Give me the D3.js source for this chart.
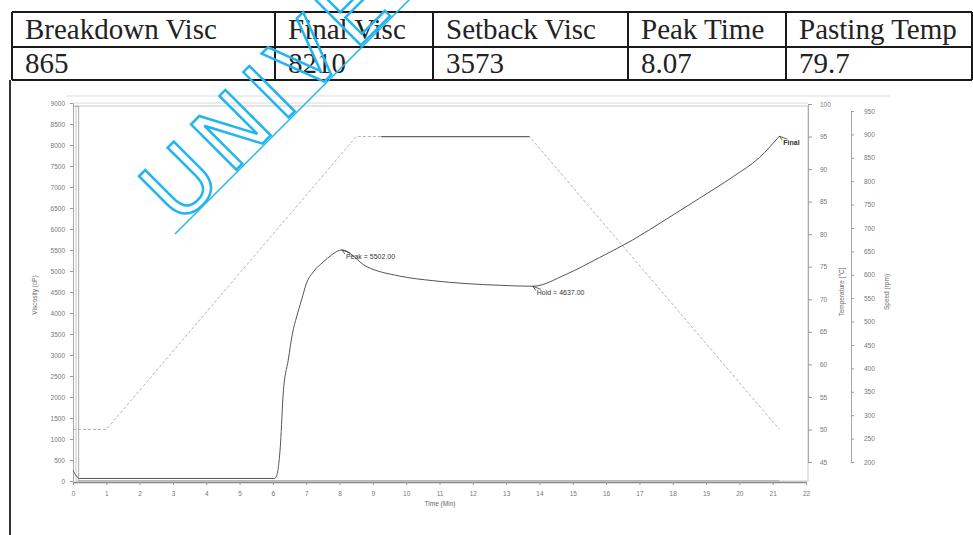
<!DOCTYPE html>
<meta charset="utf-8">
<html>
<head>
<style>
  body { margin: 0; background: #fff; }
  svg { display: block; }
</style>
</head>
<body>
<script src="https://d3js.org/d3.v7.min.js"></script>
<div id="rva_viz"></div>
<script>

// summary table
var tableHeaders = ["Breakdown Visc", "Final Visc", "Setback Visc", "Peak Time", "Pasting Temp"];
var tableValues = ["865", "8210", "3573", "8.07", "79.7"];

// viscosity curve (min, cP)
var viscTime   = [0, 0.2, 6.05, 6.11, 6.23, 6.31, 6.46, 6.59, 6.71, 6.86, 7.01, 7.21, 7.51, 7.76, 8.07, 8.8, 9.8, 10.8, 11.8, 12.8, 13.8, 14.8, 15.8, 16.8, 17.8, 18.8, 19.8, 20.6, 21.2];
var viscValues = [250, 60, 60, 120, 905, 2095, 2881, 3524, 3905, 4310, 4714, 4976, 5214, 5381, 5502, 5110, 4880, 4770, 4700, 4660, 4637, 4920, 5320, 5740, 6230, 6730, 7240, 7700, 8210];

// temperature profile (min, deg C)
var tempTime   = [0, 1, 8.5, 13.7, 21.2];
var tempValues = [50, 50, 95, 95, 50];

// paddle speed (min, rpm)
var speedTime   = [0, 0.17, 0.17, 21.2];
var speedValues = [960, 960, 160, 160];

// axis ticks
var timeTicks  = [0, 1, 2, 3, 4, 5, 6, 7, 8, 9, 10, 11, 12, 13, 14, 15, 16, 17, 18, 19, 20, 21, 22];
var viscTicks  = [0, 500, 1000, 1500, 2000, 2500, 3000, 3500, 4000, 4500, 5000, 5500, 6000, 6500, 7000, 7500, 8000, 8500, 9000];
var tempTicks  = [45, 50, 55, 60, 65, 70, 75, 80, 85, 90, 95, 100];
var speedTicks = [200, 250, 300, 350, 400, 450, 500, 550, 600, 650, 700, 750, 800, 850, 900, 950];

var W = 973, H = 535;

var svg = d3.select("#rva_viz")
  .append("svg")
    .attr("width", W)
    .attr("height", H);

// ---- table ----
var colX = [12, 275, 433, 628, 786, 972];
var rowY = [12, 47, 80];
var tbl = svg.append("g");

rowY.forEach(function(y) {
  tbl.append("line")
    .attr("x1", colX[0]).attr("x2", colX[5])
    .attr("y1", y).attr("y2", y)
    .attr("stroke", "#1a1a1a").attr("stroke-width", 2);
});
colX.forEach(function(x) {
  tbl.append("line")
    .attr("x1", x).attr("x2", x)
    .attr("y1", rowY[0]).attr("y2", rowY[2])
    .attr("stroke", "#1a1a1a").attr("stroke-width", 2);
});
tbl.selectAll("text.hd")
  .data(tableHeaders)
  .enter().append("text")
    .attr("class", "hd")
    .attr("x", function(d, i) { return colX[i] + 13; })
    .attr("y", 39)
    .attr("font-family", "Liberation Serif")
    .attr("font-size", "29px")
    .attr("fill", "#222")
    .text(function(d) { return d; });
tbl.selectAll("text.vl")
  .data(tableValues)
  .enter().append("text")
    .attr("class", "vl")
    .attr("x", function(d, i) { return colX[i] + 13; })
    .attr("y", 73)
    .attr("font-family", "Liberation Serif")
    .attr("font-size", "29px")
    .attr("fill", "#222")
    .text(function(d) { return d; });

// ---- chart panel ----
svg.append("line")
  .attr("x1", 10).attr("x2", 10).attr("y1", 80).attr("y2", H)
  .attr("stroke", "#333").attr("stroke-width", 2);
svg.append("line")
  .attr("x1", 66).attr("x2", 890).attr("y1", 96).attr("y2", 96)
  .attr("stroke", "#ddd");

var x = d3.scaleLinear().domain([0, 22]).range([73, 806]);
var yV = d3.scaleLinear().domain([0, 9000]).range([481, 103]);
var yT = d3.scaleLinear().domain([45, 100]).range([462, 104]);
var yS = d3.scaleLinear().domain([200, 950]).range([462, 111]);

// plot frame
svg.append("rect")
  .attr("x", x(0) + 3).attr("y", yV(9000) + 3)
  .attr("width", x(22) - x(0) - 1).attr("height", yV(0) - yV(9000) - 3)
  .attr("fill", "none").attr("stroke", "#c8c8c8");
svg.append("line")
  .attr("x1", x(0)).attr("x2", x(22) + 2).attr("y1", yV(9000)).attr("y2", yV(9000))
  .attr("stroke", "#d8d8d8");

function styleAxis(g) {
  g.select(".domain").attr("stroke", "#aaa");
  g.selectAll(".tick line").attr("stroke", "#999");
  g.selectAll(".tick text")
    .attr("fill", "#777")
    .attr("font-family", "Liberation Sans")
    .attr("font-size", "6.5px");
}

var plain = d3.format("d");

svg.append("g")
  .attr("transform", "translate(0," + (yV(0) + 1) + ")")
  .call(d3.axisBottom(x).tickValues(timeTicks).tickFormat(plain).tickSize(3).tickPadding(6).tickSizeOuter(0))
  .call(styleAxis)
  .call(function(g) { g.select(".domain").attr("stroke", "#888").attr("stroke-width", 1.5); });

svg.append("g")
  .attr("transform", "translate(" + x(0) + ",0)")
  .call(d3.axisLeft(yV).tickValues(viscTicks).tickFormat(plain).tickSize(3).tickPadding(5).tickSizeOuter(0))
  .call(styleAxis);

svg.append("g")
  .attr("transform", "translate(" + (x(22) + 2) + ",0)")
  .call(d3.axisRight(yT).tickValues(tempTicks).tickFormat(plain).tickSize(4).tickPadding(8).tickSizeOuter(0))
  .call(styleAxis);

svg.append("g")
  .attr("transform", "translate(851,0)")
  .call(d3.axisRight(yS).tickValues(speedTicks).tickFormat(plain).tickSize(3).tickPadding(10).tickSizeOuter(0))
  .call(styleAxis);

// axis titles
function axisTitle(t, tx, ty, rot) {
  svg.append("text")
    .attr("transform", "translate(" + tx + "," + ty + ")" + (rot ? " rotate(-90)" : ""))
    .attr("text-anchor", "middle")
    .attr("font-family", "Liberation Sans")
    .attr("font-size", "6.5px")
    .attr("fill", "#666")
    .text(t);
}
axisTitle("Time (Min)", 440, 506, false);
axisTitle("Viscosity (cP)", 37, 295, true);
axisTitle("Temperature [°C]", 844, 292, true);
axisTitle("Speed (rpm)", 889, 292, true);

// ---- curves ----
var tempData = tempTime.map(function(t, i) { return [t, tempValues[i]]; });
var speedData = speedTime.map(function(t, i) { return [t, speedValues[i]]; });
var viscData = viscTime.map(function(t, i) { return [t, viscValues[i]]; });

svg.append("path")
  .datum(speedData)
  .attr("fill", "none").attr("stroke", "#aaa").attr("stroke-width", 1)
  .attr("d", d3.line().x(function(d) { return x(d[0]); }).y(function(d) { return yS(d[1]); }));

svg.append("path")
  .datum(tempData)
  .attr("fill", "none").attr("stroke", "#b4b4b4").attr("stroke-width", 1)
  .attr("stroke-dasharray", "3,2")
  .attr("d", d3.line().x(function(d) { return x(d[0]); }).y(function(d) { return yT(d[1]); }));

// hold segment scans darker
var holdData = tempData.filter(function(d) { return d[1] === d3.max(tempValues); });
svg.append("path")
  .datum(holdData)
  .attr("fill", "none").attr("stroke", "#666").attr("stroke-width", 1.2)
  .attr("d", d3.line().x(function(d) { return x(d[0]) + (d[0] === holdData[0][0] ? 25 : 0); }).y(function(d) { return yT(d[1]); }));

svg.append("path")
  .datum(viscData)
  .attr("fill", "none").attr("stroke", "#555").attr("stroke-width", 1)
  .attr("d", d3.line().curve(d3.curveMonotoneX).x(function(d) { return x(d[0]); }).y(function(d) { return yV(d[1]); }));

// ---- point labels ----
var marks = [
  { t: 8.07, v: 5502, label: "Peak = 5502.00" },
  { t: 13.8, v: 4637, label: "Hold = 4637.00" },
  { t: 21.2, v: 8210, label: "Final" }
];
marks.forEach(function(m) {
  var px = x(m.t), py = yV(m.v);
  svg.append("line")
    .attr("x1", px).attr("y1", py).attr("x2", px + 8).attr("y2", py + 3)
    .attr("stroke", "#333").attr("stroke-width", 0.8);
  svg.append("line")
    .attr("x1", px).attr("y1", py).attr("x2", px + 3).attr("y2", py + 4)
    .attr("stroke", "#333").attr("stroke-width", 0.8);
  svg.append("text")
    .attr("x", px + 4).attr("y", py + 9)
    .attr("font-family", "Liberation Sans")
    .attr("font-size", "7px")
    .attr("font-weight", m.label === "Final" ? "bold" : "normal")
    .attr("fill", "#333")
    .text(m.label);
});

// ---- watermark ----
svg.append("text")
  .attr("transform", "translate(179,227) rotate(-45)")
  .attr("font-family", "DejaVu Sans")
  .attr("font-size", "88px")
  .attr("letter-spacing", "8px")
  .attr("fill", "none")
  .attr("stroke", "#22b5ee")
  .attr("stroke-width", 2.5)
  .text("UNIVE");
svg.append("line")
  .attr("x1", 175).attr("y1", 234).attr("x2", 175 + 240).attr("y2", 234 - 240)
  .attr("stroke", "#22b5ee").attr("stroke-width", 1.5);

</script>
</body>
</html>
